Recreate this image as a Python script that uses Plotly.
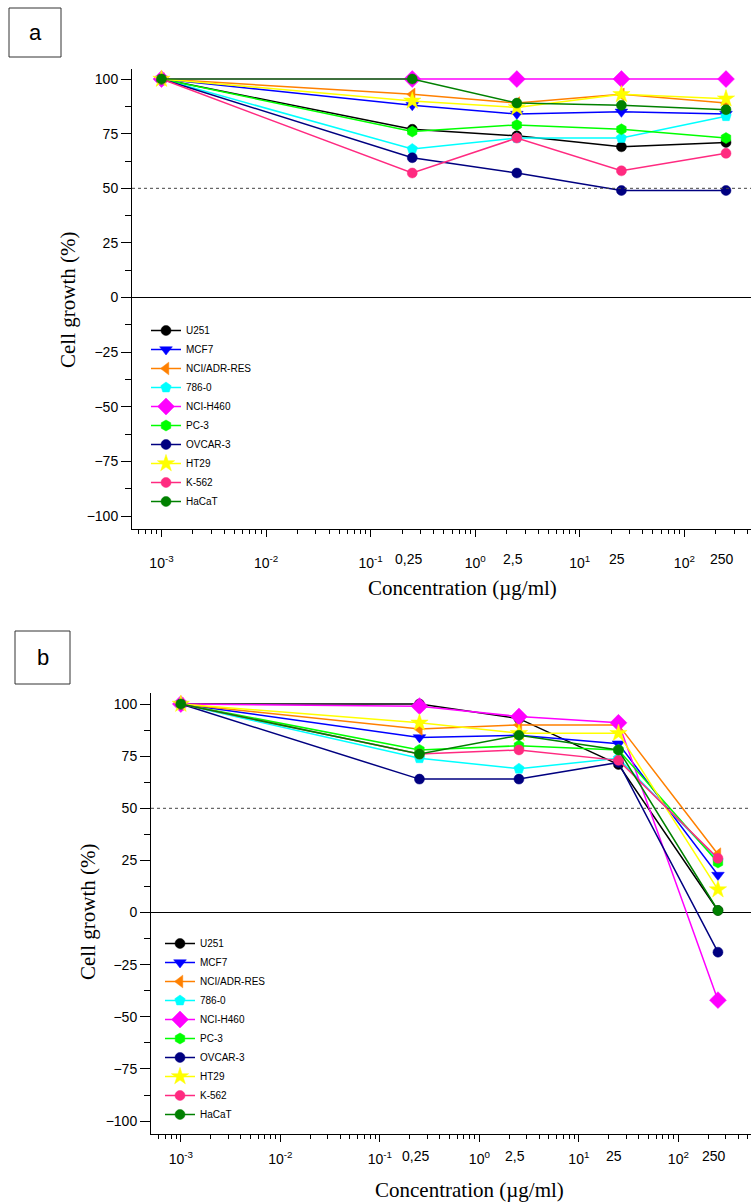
import numpy as np
import plotly.graph_objects as go

# ---------------- data ----------------
conc = [0.001, 0.25, 2.5, 25, 250]
conc_labels = ["0,25", "2,5", "25", "250"]
cell_lines = ["U251", "MCF7", "NCI/ADR-RES", "786-0", "NCI-H460",
              "PC-3", "OVCAR-3", "HT29", "K-562", "HaCaT"]
colors = ["#000000", "#0000ff", "#ff8000", "#00ffff", "#ff00ff",
          "#00ff00", "#000080", "#ffff00", "#ff2a80", "#008000"]
symbols = ["circle", "triangle-down", "triangle-left", "pentagon", "diamond",
           "hexagon", "circle", "star", "circle", "circle"]

# panel a
a_u251 = [100, 77, 74, 69, 71]
a_mcf7 = [100, 88, 84, 85, 84]
a_nciadr = [100, 93, 89, 93, 89]
a_786 = [100, 68, 73, 73, 83]
a_h460 = [100, 100, 100, 100, 100]
a_pc3 = [100, 76, 79, 77, 73]
a_ovcar = [100, 64, 57, 49, 49]
a_ht29 = [100, 90, 87, 93, 91]
a_k562 = [100, 57, 73, 58, 66]
a_hacat = [100, 100, 89, 88, 86]

# panel b
b_u251 = [100, 100, 93, 71, 1]
b_mcf7 = [100, 84, 85, 81, 18]
b_nciadr = [100, 88, 90, 90, 28]
b_786 = [100, 74, 69, 74, 25]
b_h460 = [100, 99, 94, 91, -42]
b_pc3 = [100, 78, 80, 78, 24]
b_ovcar = [100, 64, 64, 72, -19]
b_ht29 = [100, 91, 86, 86, 11]
b_k562 = [100, 76, 78, 73, 26]
b_hacat = [100, 76, 85, 78, 1]

y_ticks = [-100, -75, -50, -25, 0, 25, 50, 75, 100]
x_decades = [1e-3, 1e-2, 1e-1, 1e0, 1e1, 1e2]
x_decade_text = ["10<sup>-3</sup>", "10<sup>-2</sup>", "10<sup>-1</sup>",
                 "10<sup>0</sup>", "10<sup>1</sup>", "10<sup>2</sup>"]

panel_a = [a_u251, a_mcf7, a_nciadr, a_786, a_h460, a_pc3, a_ovcar, a_ht29, a_k562, a_hacat]
panel_b = [b_u251, b_mcf7, b_nciadr, b_786, b_h460, b_pc3, b_ovcar, b_ht29, b_k562, b_hacat]

# ---------------- figure ----------------
W, H = 751, 1203
fig = go.Figure()

sizes = {"circle": 10, "triangle-down": 11, "triangle-left": 11, "pentagon": 11,
         "diamond": 13, "hexagon": 11, "star": 13}


def add_panel(series, xa, ya, leg):
    for name, vals, col, sym in zip(cell_lines, series, colors, symbols):
        fig.add_trace(go.Scatter(
            x=conc, y=vals, name=name, mode="lines+markers",
            xaxis=xa, yaxis=ya, legend=leg,
            line=dict(color=col, width=1.5),
            marker=dict(symbol=sym, size=sizes[sym], color=col,
                        line=dict(color=col, width=0.5)),
        ))


add_panel(panel_a, "x", "y", "legend")
add_panel(panel_b, "x2", "y2", "legend2")

minor_x = [m * 10.0 ** k for k in range(-4, 3) for m in range(2, 10)]
tickfont = dict(family="Liberation Sans, Arial", size=14, color="#000")


def xaxis_cfg(left_px, rng, anchor, standoff):
    return dict(type="log", domain=[left_px / W, 1], range=rng, anchor=anchor,
                showline=True, linecolor="black", linewidth=1,
                ticks="outside", ticklen=7, tickcolor="black", tickwidth=1,
                tickvals=x_decades, ticktext=x_decade_text, tickfont=tickfont,
                ticklabelstandoff=standoff,
                minor=dict(tickvals=minor_x, ticks="outside", ticklen=4,
                           tickcolor="black", tickwidth=1),
                showgrid=False, zeroline=False)


def yaxis_cfg(top_px, bot_px, rng, anchor):
    return dict(domain=[1 - bot_px / H, 1 - top_px / H], range=rng, anchor=anchor,
                showline=True, linecolor="black", linewidth=1,
                ticks="outside", ticklen=10, tickcolor="black", tickwidth=1,
                tickvals=y_ticks, tickfont=tickfont,
                minor=dict(dtick=12.5, tick0=0, ticks="outside", ticklen=6,
                           tickcolor="black", tickwidth=1),
                showgrid=False, zeroline=True, zerolinecolor="black",
                zerolinewidth=1)


legend_font = dict(family="Liberation Sans, Arial", size=10, color="#000")

fig.update_layout(
    width=W, height=H,
    margin=dict(l=0, r=0, t=0, b=0),
    paper_bgcolor="white", plot_bgcolor="white",
    showlegend=True,
    xaxis=xaxis_cfg(132, [-3.282, 2.637], "y", 14),
    yaxis=yaxis_cfg(69, 529, [-105.9, 104.6], "x"),
    xaxis2=xaxis_cfg(151, [-3.30, 2.73], "y2", 5),
    yaxis2=yaxis_cfg(693, 1134, [-106.2, 105.3], "x2"),
    legend=dict(x=146 / W, y=1 - 416 / H, xanchor="left", yanchor="middle",
                font=legend_font, bgcolor="rgba(0,0,0,0)", tracegroupgap=0),
    legend2=dict(x=160 / W, y=1 - 1029 / H, xanchor="left", yanchor="middle",
                 font=legend_font, bgcolor="rgba(0,0,0,0)", tracegroupgap=0),
)

# dotted 50% line
for xr, yr in (("x", "y"), ("x2", "y2")):
    fig.add_shape(type="line", xref=f"{xr} domain", yref=yr, x0=0, x1=1, y0=50, y1=50,
                  line=dict(color="#444", width=1, dash="dot"))

# panel letter boxes
for letter, (x0, y0, x1, y1) in (("a", (9, 8, 61, 57)), ("b", (15, 631, 70, 684))):
    fig.add_shape(type="rect", xref="paper", yref="paper",
                  x0=x0 / W, x1=x1 / W, y0=1 - y1 / H, y1=1 - y0 / H,
                  line=dict(color="#333", width=1), fillcolor="white")
    fig.add_annotation(text=letter, xref="paper", yref="paper",
                       x=(x0 + x1) / 2 / W, y=1 - (y0 + y1) / 2 / H,
                       showarrow=False, xanchor="center", yanchor="middle",
                       font=dict(family="Liberation Sans, Arial", size=22, color="#000"))

serif = dict(family="Liberation Serif, Times New Roman", size=21, color="#000")
# axis titles
for txt, px, py, ang in (("Cell growth (%)", 68, 300, -90),
                         ("Cell growth (%)", 88, 912, -90),
                         ("Concentration (µg/ml)", 462, 588, 0),
                         ("Concentration (µg/ml)", 470, 1190, 0)):
    fig.add_annotation(text=txt, xref="paper", yref="paper",
                       x=px / W, y=1 - py / H, textangle=ang, showarrow=False,
                       xanchor="center", yanchor="middle", font=serif)

# concentration labels next to the decade labels
for xr, yr, shift in (("x", "y", -30), ("x2", "y2", -22)):
    for c, lab in zip(conc[1:], conc_labels):
        fig.add_annotation(text=lab, xref=xr, yref=f"{yr} domain",
                           x=np.log10(c), y=0, yanchor="middle", xanchor="center",
                           yshift=shift, xshift=-4, showarrow=False, font=tickfont)

fig.write_html("out.html", config={"displayModeBar": False},
               post_script="document.body.style.margin='0px';")
